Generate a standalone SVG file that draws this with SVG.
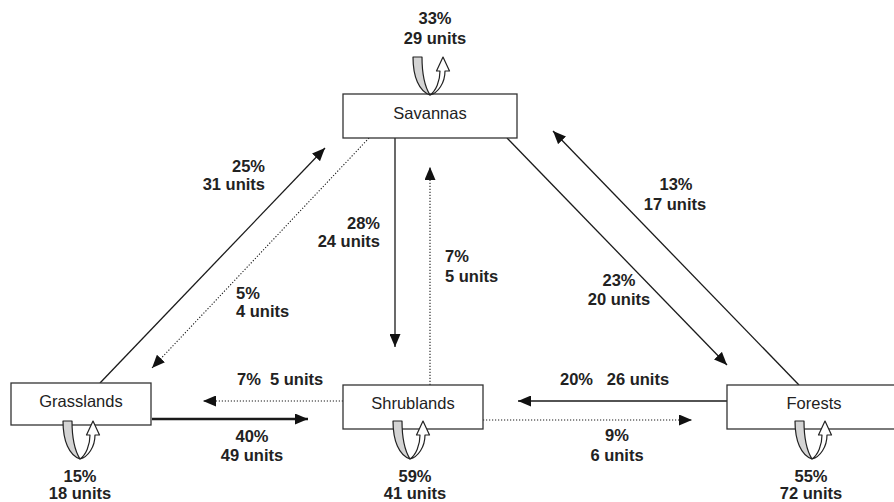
<svg xmlns="http://www.w3.org/2000/svg" width="894" height="502" viewBox="0 0 894 502">
<style>
.box{fill:#fff;stroke:#333;stroke-width:1.3}
.nl{font-family:"Liberation Sans",Arial,sans-serif;font-size:16.5px;fill:#222;text-anchor:middle}
.lb{font-family:"Liberation Sans",Arial,sans-serif;font-size:16.5px;font-weight:bold;fill:#222}
.c{fill:none;stroke:#1a1a1a;stroke-width:1.3;marker-end:url(#ah)}
.d{stroke-dasharray:1.2 1.8;stroke-width:1.1}
.thick{stroke-width:2.6}
.gray{fill:#d4d4d4;stroke:#222;stroke-width:1.2;stroke-linejoin:round}
.wht{fill:#fff;stroke:#222;stroke-width:1.2;stroke-linejoin:round}
</style>
<defs>
<marker id="ah" markerUnits="userSpaceOnUse" markerWidth="13" markerHeight="11" refX="13" refY="5.5" orient="auto">
<path d="M0,0 L13,5.5 L0,11 Z" fill="#111"/>
</marker>
<g id="loop">
<path class="gray" d="M-17,0 L-8,0 C-8,18 -5,30 0,38 C-11,34 -17,20 -17,0 Z"/>
<path class="wht" d="M0,38 C6,34 10,24 10,14 L6.5,14 L13,0 L19.5,14 L15,14 C15,26 8,36 0,38 Z"/>
</g>
</defs>

<g id="connectors">
<path class="c" d="M100,383 L325,148"/>
<path class="c d" d="M369,138 L152,368"/>
<path class="c" d="M395,138 L395,347"/>
<path class="c d" d="M430,385 L430,167"/>
<path class="c" d="M507,138 L727,365"/>
<path class="c" d="M799,385 L553,131"/>
<path class="c thick" d="M152,419 L308,419"/>
<path class="c d" d="M343,401 L203,401"/>
<path class="c" d="M727,401 L518,401"/>
<path class="c d" d="M483,420 L692,420"/>
</g>

<g id="savannas">
<rect class="box" x="343" y="94" width="174" height="44"/>
<text class="nl" x="430" y="119">Savannas</text>
<use href="#loop" x="430" y="57"/>
</g>
<g id="grasslands">
<rect class="box" x="11" y="383" width="140" height="42"/>
<text class="nl" x="81" y="407">Grasslands</text>
<use href="#loop" x="80" y="421"/>
</g>
<g id="shrublands">
<rect class="box" x="343" y="385" width="140" height="44"/>
<text class="nl" x="413" y="409">Shrublands</text>
<use href="#loop" x="410" y="421"/>
</g>
<g id="forests">
<rect class="box" x="727" y="385" width="174" height="44"/>
<text class="nl" x="814" y="409">Forests</text>
<use href="#loop" x="812" y="421"/>
</g>

<g id="labels">
<text class="lb" x="435" y="24" text-anchor="middle">33%</text>
<text class="lb" x="435" y="44" text-anchor="middle">29 units</text>
<text class="lb" x="265" y="172" text-anchor="end">25%</text>
<text class="lb" x="265" y="190" text-anchor="end">31 units</text>
<text class="lb" x="380" y="229" text-anchor="end">28%</text>
<text class="lb" x="380" y="247" text-anchor="end">24 units</text>
<text class="lb" x="236" y="299">5%</text>
<text class="lb" x="236" y="317">4 units</text>
<text class="lb" x="445" y="262">7%</text>
<text class="lb" x="445" y="282">5 units</text>
<text class="lb" x="676" y="190" text-anchor="middle">13%</text>
<text class="lb" x="675" y="210" text-anchor="middle">17 units</text>
<text class="lb" x="619" y="286" text-anchor="middle">23%</text>
<text class="lb" x="619" y="305" text-anchor="middle">20 units</text>
<text class="lb" x="237" y="385" xml:space="preserve">7%  5 units</text>
<text class="lb" x="560" y="385" xml:space="preserve">20%   26 units</text>
<text class="lb" x="252" y="442" text-anchor="middle">40%</text>
<text class="lb" x="252" y="461" text-anchor="middle">49 units</text>
<text class="lb" x="617" y="441" text-anchor="middle">9%</text>
<text class="lb" x="617" y="461" text-anchor="middle">6 units</text>
<text class="lb" x="80" y="482" text-anchor="middle">15%</text>
<text class="lb" x="80" y="499" text-anchor="middle">18 units</text>
<text class="lb" x="415" y="482" text-anchor="middle">59%</text>
<text class="lb" x="415" y="499" text-anchor="middle">41 units</text>
<text class="lb" x="811" y="482" text-anchor="middle">55%</text>
<text class="lb" x="811" y="499" text-anchor="middle">72 units</text>
</g>
</svg>
